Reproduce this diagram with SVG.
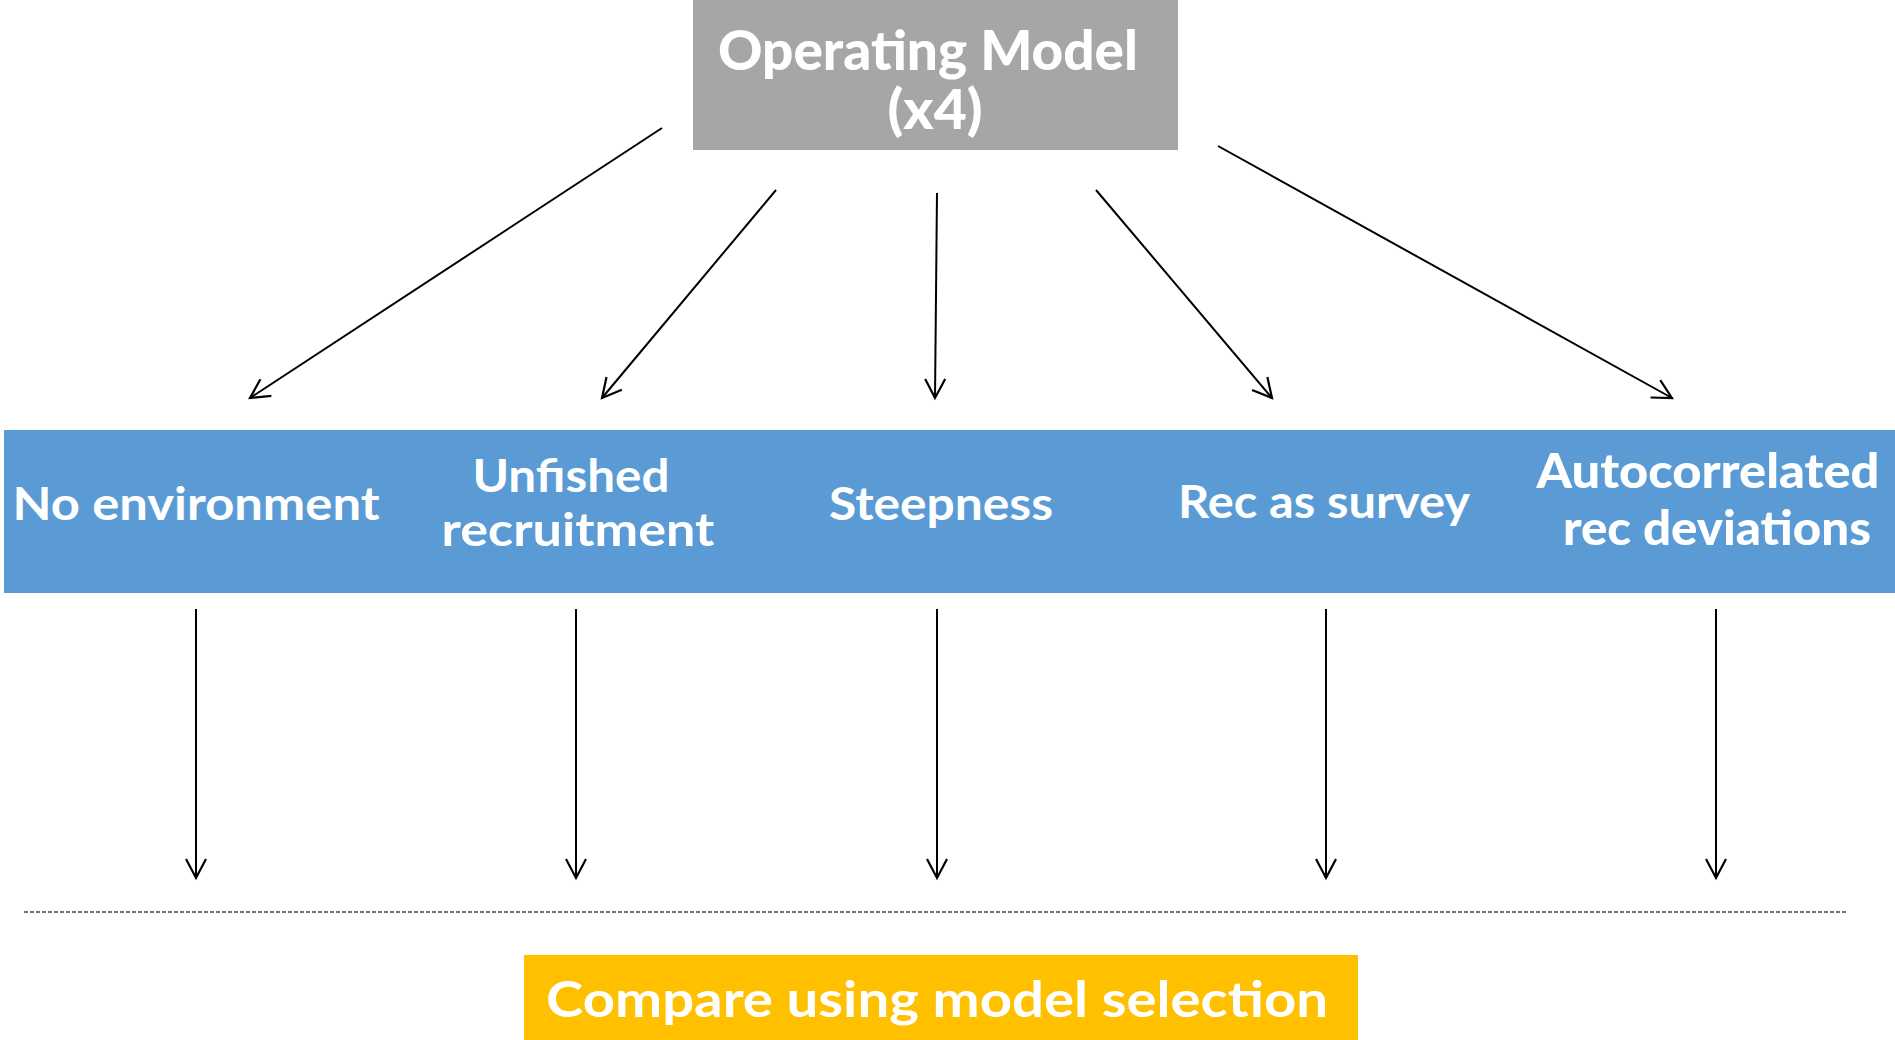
<svg xmlns="http://www.w3.org/2000/svg" width="1895" height="1040" viewBox="0 0 1895 1040">
<style>
.t{font-family:Lato,"Open Sans","Liberation Sans",sans-serif;font-weight:bold;fill:#fff;text-anchor:middle}
.g{font-weight:900}
.c{stroke:#000;stroke-width:2;fill:none}
</style>
<defs>
<marker id="ah" markerUnits="userSpaceOnUse" markerWidth="40" markerHeight="40" viewBox="-20 -20 40 40" refX="0" refY="0" orient="auto">
<path d="M-19,-10 L0,0 L-19,10" fill="none" stroke="#000" stroke-width="2.2"/>
</marker>
</defs>
<rect width="1895" height="1040" fill="#fff"/>
<g id="operating-model">
<rect x="693" y="0" width="485" height="150" fill="#A6A6A6"/>
<text class="t g" font-size="56"><tspan x="928" y="70" textLength="420" lengthAdjust="spacingAndGlyphs">Operating Model</tspan><tspan x="935" y="129" textLength="95" lengthAdjust="spacingAndGlyphs">(x4)</tspan></text>
</g>
<g id="scenarios">
<rect x="4" y="430" width="1891" height="163" fill="#5B9BD5"/>
<text class="t" x="196" y="520" font-size="45" textLength="367" lengthAdjust="spacingAndGlyphs">No environment</text>
<text class="t" font-size="45"><tspan x="571" y="492" textLength="197" lengthAdjust="spacingAndGlyphs">Unfished</tspan><tspan x="578" y="546" textLength="273" lengthAdjust="spacingAndGlyphs">recruitment</tspan></text>
<text class="t" x="941" y="520" font-size="45" textLength="224" lengthAdjust="spacingAndGlyphs">Steepness</text>
<text class="t" x="1324" y="518" font-size="45" textLength="292" lengthAdjust="spacingAndGlyphs">Rec as survey</text>
<text class="t g" font-size="47"><tspan x="1708" y="488" textLength="343" lengthAdjust="spacingAndGlyphs">Autocorrelated</tspan><tspan x="1717" y="545" textLength="308" lengthAdjust="spacingAndGlyphs">rec deviations</tspan></text>
</g>
<g id="compare">
<rect x="524" y="955" width="834" height="85" fill="#FFC000"/>
<text class="t" x="937" y="1017" font-size="50" textLength="782" lengthAdjust="spacingAndGlyphs">Compare using model selection</text>
</g>
<g id="connectors">
<line class="c" x1="662" y1="128" x2="250" y2="398" marker-end="url(#ah)"/>
<line class="c" x1="776" y1="190" x2="602" y2="398" marker-end="url(#ah)"/>
<line class="c" x1="937" y1="193" x2="935" y2="398" marker-end="url(#ah)"/>
<line class="c" x1="1096" y1="190" x2="1272" y2="398" marker-end="url(#ah)"/>
<line class="c" x1="1218" y1="146" x2="1672" y2="398" marker-end="url(#ah)"/>
<line class="c" x1="196" y1="609" x2="196" y2="878" marker-end="url(#ah)"/>
<line class="c" x1="576" y1="609" x2="576" y2="878" marker-end="url(#ah)"/>
<line class="c" x1="937" y1="609" x2="937" y2="878" marker-end="url(#ah)"/>
<line class="c" x1="1326" y1="609" x2="1326" y2="878" marker-end="url(#ah)"/>
<line class="c" x1="1716" y1="609" x2="1716" y2="878" marker-end="url(#ah)"/>
<line x1="24" y1="912" x2="1847" y2="912" stroke="#444" stroke-width="1.5" stroke-dasharray="4 2"/>
</g>
</svg>
